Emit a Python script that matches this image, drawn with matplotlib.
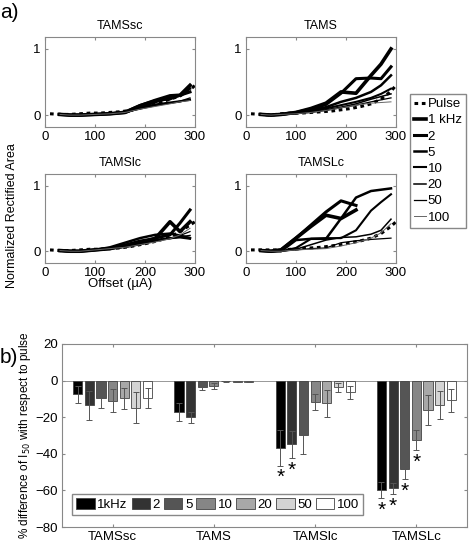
import matplotlib
matplotlib.use("Agg")
import matplotlib.pyplot as plt
import numpy as np

plt.rcParams['font.family'] = ['Liberation Sans', 'DejaVu Sans']

# ── panel a data ────────────────────────────────────────────────────────────
series_names = ["Pulse", "1 kHz", "2", "5", "10", "20", "50", "100"]
line_widths = [2.2, 2.6, 2.2, 1.8, 1.5, 1.1, 0.9, 0.7]
line_colors = ["black"] * 7 + ["#666666"]

pulse_x = [10, 30, 50, 70, 90, 110, 130, 150, 170, 190, 210, 230, 250, 270, 290, 300]
freq_x = [30, 50, 70, 100, 130, 160, 190, 220, 250, 270, 290]

curves = {
    "TAMSsc": {
        "Pulse": [0.02, 0.01, 0.01, 0.02, 0.03, 0.03, 0.04, 0.05, 0.07, 0.11, 0.15, 0.19, 0.24, 0.29, 0.38, 0.45],
        "1 kHz": [0.01, 0.0, 0.0, 0.01, 0.02, 0.04, 0.14, 0.22, 0.29, 0.3, 0.45],
        "2":     [0.01, 0.0, 0.0, 0.01, 0.02, 0.04, 0.12, 0.2, 0.26, 0.3, 0.35],
        "5":     [0.01, 0.0, 0.0, 0.01, 0.02, 0.05, 0.15, 0.22, 0.24, 0.3, 0.4],
        "10":    [0.01, 0.0, 0.0, 0.01, 0.02, 0.04, 0.11, 0.16, 0.19, 0.21, 0.23],
        "20":    [0.01, 0.0, 0.0, 0.01, 0.02, 0.04, 0.1, 0.15, 0.18, 0.2, 0.24],
        "50":    [0.01, 0.0, 0.0, 0.01, 0.02, 0.04, 0.09, 0.14, 0.18, 0.21, 0.26],
        "100":   [0.01, 0.0, 0.0, 0.01, 0.02, 0.04, 0.09, 0.13, 0.17, 0.2, 0.22],
    },
    "TAMS": {
        "Pulse": [0.02, 0.01, 0.0, 0.02, 0.03, 0.03, 0.04, 0.05, 0.06, 0.08, 0.1, 0.13, 0.17, 0.24, 0.36, 0.45],
        "1 kHz": [0.01, 0.0, 0.01, 0.04, 0.1, 0.18, 0.35, 0.33, 0.6, 0.77, 1.0],
        "2":     [0.01, 0.0, 0.01, 0.04, 0.09, 0.16, 0.33, 0.55, 0.56, 0.55, 0.73],
        "5":     [0.01, 0.0, 0.01, 0.03, 0.07, 0.12, 0.2, 0.26, 0.35, 0.45, 0.6],
        "10":    [0.01, 0.0, 0.01, 0.03, 0.06, 0.1, 0.15, 0.2, 0.26, 0.32, 0.4],
        "20":    [0.01, 0.0, 0.01, 0.03, 0.05, 0.08, 0.12, 0.17, 0.24, 0.28, 0.32],
        "50":    [0.01, 0.0, 0.01, 0.02, 0.04, 0.07, 0.11, 0.15, 0.2, 0.23, 0.26],
        "100":   [0.01, 0.0, 0.01, 0.02, 0.04, 0.07, 0.11, 0.15, 0.18, 0.19, 0.2],
    },
    "TAMSlc": {
        "Pulse": [0.02, 0.01, 0.01, 0.02, 0.03, 0.03, 0.04, 0.05, 0.07, 0.1, 0.13, 0.17, 0.22, 0.3, 0.4, 0.45],
        "1 kHz": [0.01, 0.0, 0.0, 0.02, 0.04, 0.09, 0.15, 0.19, 0.45, 0.3, 0.45],
        "2":     [0.01, 0.0, 0.0, 0.02, 0.04, 0.08, 0.13, 0.2, 0.25, 0.43, 0.63],
        "5":     [0.01, 0.0, 0.0, 0.02, 0.06, 0.13, 0.2, 0.25, 0.27, 0.24, 0.2],
        "10":    [0.01, 0.0, 0.0, 0.02, 0.04, 0.07, 0.12, 0.17, 0.2, 0.21, 0.19],
        "20":    [0.01, 0.0, 0.0, 0.02, 0.04, 0.06, 0.1, 0.16, 0.19, 0.22, 0.24],
        "50":    [0.01, 0.0, 0.0, 0.02, 0.04, 0.06, 0.1, 0.15, 0.2, 0.24, 0.3],
        "100":   [0.01, 0.0, 0.0, 0.02, 0.04, 0.06, 0.1, 0.14, 0.19, 0.25, 0.35],
    },
    "TAMSLc": {
        "Pulse": [0.02, 0.02, 0.02, 0.02, 0.03, 0.04, 0.05, 0.06, 0.08, 0.1, 0.13, 0.16, 0.2, 0.27, 0.38, 0.45],
        "1 kHz": [0.01, 0.0, 0.02, 0.2, 0.38, 0.55, 0.5, 0.63, np.nan, np.nan, np.nan],
        "2":     [0.01, 0.0, 0.02, 0.2, 0.4, 0.6, 0.77, 0.7, np.nan, np.nan, np.nan],
        "5":     [0.01, 0.0, 0.0, 0.17, 0.19, 0.19, 0.5, 0.82, 0.92, 0.94, 0.96],
        "10":    [0.01, 0.0, 0.0, 0.05, 0.19, 0.2, 0.2, 0.32, 0.62, 0.75, 0.87],
        "20":    [0.01, 0.0, 0.0, 0.03, 0.1, 0.17, 0.21, 0.22, 0.26, 0.32, 0.49],
        "50":    [0.01, 0.0, 0.0, 0.02, 0.04, 0.05, 0.13, 0.16, 0.18, 0.19, 0.2],
        "100":   [0.01, 0.0, 0.0, 0.02, 0.03, 0.04, 0.08, 0.13, 0.2, 0.28, 0.42],
    },
}

# ── panel b data ────────────────────────────────────────────────────────────
groups = ["TAMSsc", "TAMS", "TAMSlc", "TAMSLc"]
freq_labels = ["1kHz", "2", "5", "10", "20", "50", "100"]
bar_colors = ["#000000", "#333333", "#555555", "#868686", "#a8a8a8", "#d4d4d4", "#ffffff"]
pct_diff = [
    [-7.5, -13.6, -9.4, -11.0, -9.7, -14.9, -9.4],
    [-17.2, -20.0, -3.3, -3.0, -0.3, -0.5, -0.5],
    [-36.7, -34.9, -29.5, -11.9, -12.5, -3.7, -6.4],
    [-59.8, -58.9, -48.4, -32.5, -16.0, -13.2, -10.8],
]
pct_err = [
    [4.5, 8.0, 5.5, 6.2, 5.8, 8.5, 5.5],
    [5.0, 3.0, 1.8, 1.8, 0.2, 0.2, 0.2],
    [9.7, 7.5, 10.6, 4.4, 7.3, 2.3, 3.5],
    [4.6, 3.1, 5.4, 5.4, 8.3, 7.7, 6.3],
]
significant = [
    [False] * 7,
    [False] * 7,
    [True, True, False, False, False, False, False],
    [True, True, True, True, False, False, False],
]

W, H = 472, 542
fig = plt.figure(figsize=(W / 100, H / 100), dpi=100)

def px_axes(left, top, right, bottom):
    return fig.add_axes([left / W, 1 - bottom / H, (right - left) / W, (bottom - top) / H])

def style_axes(ax):
    for sp in ax.spines.values():
        sp.set_color("#888888")
        sp.set_linewidth(0.8)
    ax.tick_params(direction="in", top=True, right=True, length=2.5,
                   color="#888888", labelsize=9.5, pad=3)

# ── panel a ────────────────────────────────────────────────────────────────
boxes = {
    "TAMSsc": (45, 37, 195, 127),
    "TAMS": (246, 37, 396, 127),
    "TAMSlc": (45, 174, 195, 263),
    "TAMSLc": (246, 174, 396, 263),
}
handles = []
for name, box in boxes.items():
    ax = px_axes(*box)
    data = curves[name]
    for i, s in enumerate(series_names):
        if s == "Pulse":
            h, = ax.plot(pulse_x, data[s], color="black", lw=line_widths[i],
                         ls=(0, (1.2, 1.2)), label=s)
        else:
            h, = ax.plot(freq_x, data[s], color=line_colors[i], lw=line_widths[i], label=s)
        if name == "TAMSsc":
            handles.append(h)
    ax.set_xlim(0, 300)
    ax.set_ylim(-0.18, 1.18)
    ax.set_xticks([0, 100, 200, 300])
    ax.set_yticks([0, 1])
    ax.set_title(name, fontsize=9, pad=6)
    style_axes(ax)
    if name == "TAMSlc":
        ax.set_xlabel("Offset (\u00b5A)", fontsize=9.5, labelpad=-1)

fig.text(12 / W, 1 - 216 / H, "Normalized Rectified Area", rotation=90,
         ha="center", va="center", fontsize=9)
fig.legend(handles, series_names, loc="upper left",
           bbox_to_anchor=(410 / W, 1 - 94 / H), fontsize=9.5,
           handlelength=0.9, handletextpad=0.15, labelspacing=0.3,
           borderpad=0.3, borderaxespad=0, fancybox=False,
           edgecolor="#888888", framealpha=1)

fig.text(0.0, 1 - 3 / H, "a)", fontsize=15, va="top", ha="left")
fig.text(0.0, 1 - 348 / H, "b)", fontsize=15, va="top", ha="left")

# ── panel b ────────────────────────────────────────────────────────────────
axb = px_axes(62, 344, 467, 527)
pos = np.arange(1, len(groups) + 1)
step, bw = 0.115, 0.09
for j, lab in enumerate(freq_labels):
    xs = pos + (j - 3) * step
    vals = [pct_diff[g][j] for g in range(len(groups))]
    errs = [pct_err[g][j] for g in range(len(groups))]
    axb.bar(xs, vals, width=bw, color=bar_colors[j], edgecolor="#444444",
            linewidth=0.6, label=lab, zorder=2)
    axb.errorbar(xs, vals, yerr=errs, fmt="none", ecolor="#555555",
                 elinewidth=0.7, capsize=2.5, capthick=0.7, zorder=3)
    for g in range(len(groups)):
        if significant[g][j]:
            axb.text(xs[g], vals[g] - errs[g] - 1.5, "*", ha="center", va="top",
                     fontsize=15)
axb.axhline(0, color="#888888", lw=0.6, zorder=1)
axb.set_xlim(0.5, 4.5)
axb.set_ylim(-80, 20)
axb.set_xticks(pos)
axb.set_xticklabels(groups)
axb.set_yticks([-80, -60, -40, -20, 0, 20])
axb.set_yticklabels(["\u221280", "\u221260", "\u221240", "\u221220", "0", "20"])
style_axes(axb)
axb.set_ylabel("% difference of I$_{50}$ with respect to pulse", fontsize=8.5, labelpad=2)
axb.legend(loc="lower left", ncol=7, fontsize=9.5, handlelength=1.4, handleheight=1.0,
           handletextpad=0.2, columnspacing=0.3, borderpad=0.3, borderaxespad=0,
           bbox_to_anchor=(0.025, 0.066), fancybox=False, edgecolor="#888888",
           framealpha=1)

fig.savefig("out.png", dpi=100)
